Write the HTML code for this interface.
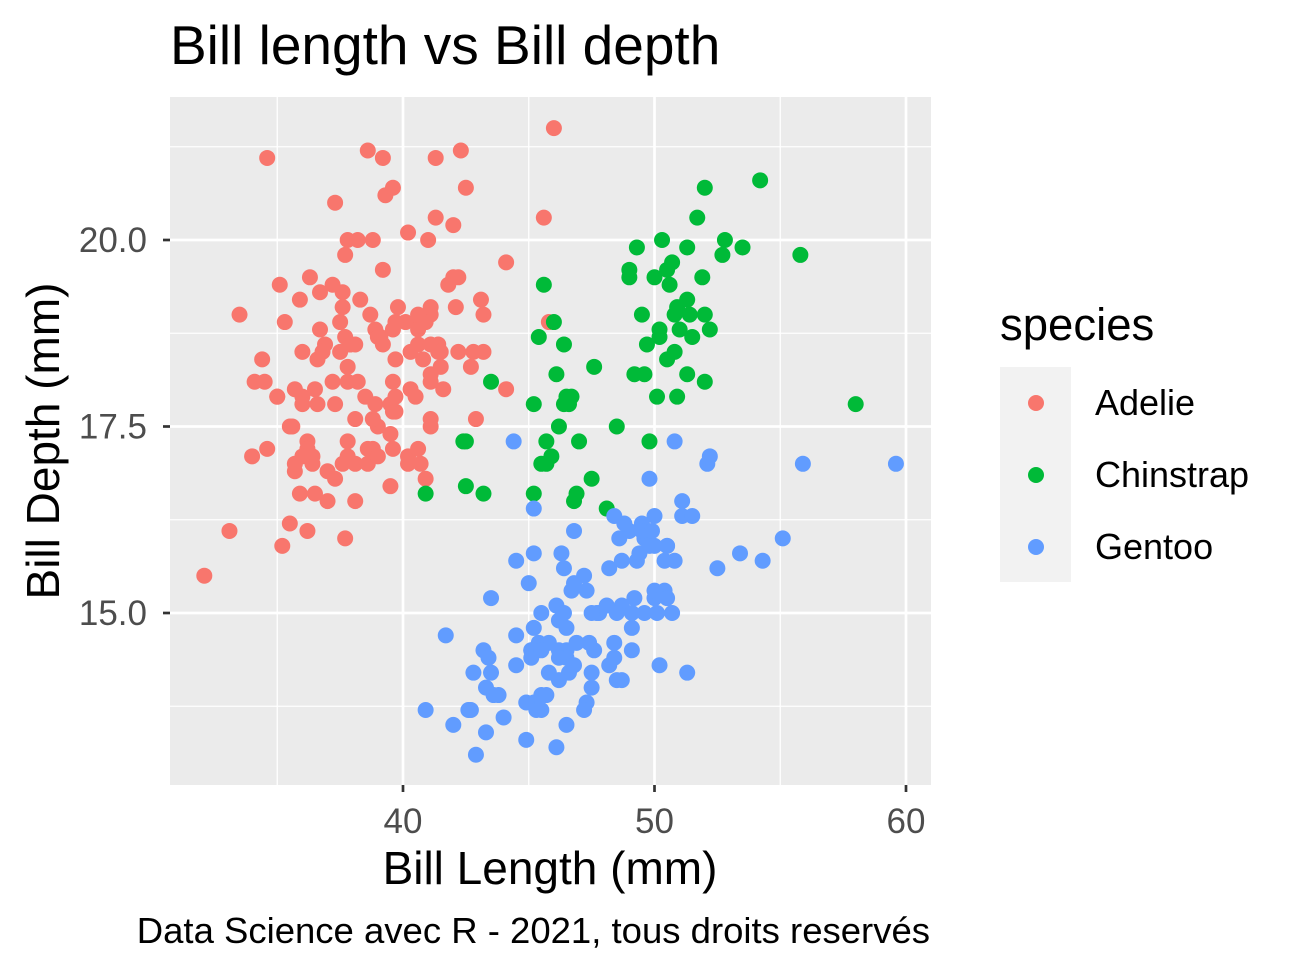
<!DOCTYPE html>
<html><head><meta charset="utf-8"><style>
body{margin:0;background:#fff;}
svg text{font-family:"Liberation Sans",sans-serif;}
</style></head><body>
<svg id="chart" width="1297" height="974" xmlns="http://www.w3.org/2000/svg">
<rect width="1297" height="974" fill="#fff"/>
<text x="170" y="64" font-size="55" fill="#000">Bill length vs Bill depth</text>
<rect x="170" y="97" width="761" height="688" fill="#EBEBEB"/>
<g id="grid"></g>
<g id="pts"></g>
<g id="axes"></g>
<text x="550" y="884" font-size="46" text-anchor="middle">Bill Length (mm)</text>
<text transform="translate(59,441) rotate(-90)" font-size="46" text-anchor="middle">Bill Depth (mm)</text>
<text x="930" y="943" font-size="36.5" text-anchor="end">Data Science avec R - 2021, tous droits reservés</text>
<g>
<text x="1000" y="340" font-size="45.5">species</text>
<rect x="1000" y="367" width="71" height="215" fill="#F2F2F2"/>
<circle cx="1036" cy="403" r="8" fill="#F8766D"/>
<text x="1095" y="415" font-size="36">Adelie</text>
<circle cx="1036" cy="475" r="8" fill="#00BA38"/>
<text x="1095" y="487" font-size="36">Chinstrap</text>
<circle cx="1036" cy="547" r="8" fill="#619CFF"/>
<text x="1095" y="559" font-size="36">Gentoo</text>
</g>
</svg>
<script>
const xTicks=[40,50,60];
const xMinor=[35,45,55];
const yTicks=[15,17.5,20];
const yTickLabels=["15.0","17.5","20.0"];
const yMinor=[13.75,16.25,18.75,21.25];
const adelieX=[39.1,39.5,40.3,36.7,39.3,38.9,39.2,34.1,42,37.8,37.8,41.1,38.6,34.6,36.6,38.7,42.5,34.4,46,37.8,37.7,35.9,38.2,38.8,35.3,40.6,40.5,37.9,40.5,39.5,37.2,39.5,40.9,36.4,39.2,38.8,42.2,37.6,39.8,36.5,40.8,36,44.1,37,39.6,41.1,37.5,36,42.3,39.6,40.1,35,42,34.5,41.4,39,40.6,36.5,37.6,35.7,41.3,37.6,41.1,36.4,41.6,35.5,41.1,35.9,41.8,33.5,39.7,39.6,45.8,35.5,42.8,40.9,37.2,36.2,42.1,34.6,42.9,36.7,35.1,37.3,41.3,36.3,36.9,38.3,38.9,35.7,41.1,34,39.6,36.2,40.8,38.1,40.3,33.1,43.2,35,41,37.7,37.8,37.9,39.7,38.6,38.2,38.1,43.2,38.1,45.6,39.7,42.2,39.6,42.7,38.6,37.3,35.7,41.1,36.2,37.7,40.2,41.4,35.2,40.6,38.8,41.5,39,44.1,38.5,43.1,36.8,37.5,38.1,41.1,35.6,40.2,37,39.7,40.2,40.6,32.1,40.7,37.3,39,39.2,36.6,36,37.8,36,41.5];
const adelieY=[18.7,17.4,18,19.3,20.6,17.8,19.6,18.1,20.2,17.1,17.3,17.6,21.2,21.1,17.8,19,20.7,18.4,21.5,18.3,18.7,19.2,18.1,17.2,18.9,18.6,17.9,18.6,18.9,16.7,18.1,17.8,18.9,17,21.1,20,18.5,19.3,19.1,18,18.4,18.5,19.7,16.9,18.8,19,18.9,17.9,21.2,17.7,18.9,17.9,19.5,18.1,18.6,17.5,18.8,16.6,19.1,16.9,21.1,17,18.2,17.1,18,16.2,19.1,16.6,19.4,19,18.4,17.2,18.9,17.5,18.5,16.8,19.4,16.1,19.1,17.2,17.6,18.8,19.4,17.8,20.3,19.5,18.6,19.2,18.8,18,18.1,17.1,18.1,17.3,18.9,18.6,18.5,16.1,18.5,17.9,20,16,20,18.6,18.9,17.2,20,17,19,16.5,20.3,17.7,19.5,20.7,18.3,17,20.5,17,18.6,17.2,19.8,17,18.5,15.9,19,17.6,18.3,17.1,18,17.9,19.2,18.5,18.5,17.6,17.5,17.5,20.1,16.5,17.9,17.1,17.2,15.5,17,16.8,18.7,18.6,18.4,17.8,18.1,17.1,18.5];
const chinX=[46.5,50,51.3,45.4,52.7,45.2,46.1,51.3,46,51.3,46.6,51.7,47,52,45.9,50.5,50.3,58,46.4,49.2,42.4,48.5,43.2,50.6,46.7,52,50.5,49.5,46.4,52.8,40.9,54.2,42.5,51,49.7,47.5,47.6,52,46.9,53.5,49,46.2,50.9,45.5,50.9,50.8,50.1,49,51.5,49.8,48.1,51.4,45.7,50.7,42.5,52.2,45.2,49.3,50.2,45.6,51.9,46.8,45.7,55.8,43.5,49.6,50.8,50.2];
const chinY=[17.9,19.5,19.2,18.7,19.8,17.8,18.2,18.2,18.9,19.9,17.8,20.3,17.3,18.1,17.1,19.6,20,17.8,18.6,18.2,17.3,17.5,16.6,19.4,17.9,19,18.4,19,17.8,20,16.6,20.8,16.7,18.8,18.6,16.8,18.3,20.7,16.6,19.9,19.5,17.5,19.1,17,17.9,18.5,17.9,19.6,18.7,17.3,16.4,19,17.3,19.7,17.3,18.8,16.6,19.9,18.8,19.4,19.5,16.5,17,19.8,18.1,18.2,19,18.7];
const gentooX=[46.1,50,48.7,50,47.6,46.5,45.4,46.7,43.3,46.8,40.9,49,45.5,48.4,45.8,49.3,42,49.2,46.2,48.7,50.2,45.1,46.5,46.3,42.9,46.1,44.5,47.8,48.2,50,47.3,42.8,45.1,59.6,49.1,48.4,42.6,44.4,44,48.7,42.7,49.6,45.3,49.6,50.5,43.6,45.5,50.5,44.9,45.2,46.6,48.5,45.1,50.1,46.5,45,43.8,45.5,43.2,50.4,45.3,46.2,45.7,54.3,45.8,49.8,46.2,49.5,43.5,50.7,47.7,46.4,48.2,46.5,46.4,48.6,47.5,51.1,45.2,45.2,49.1,52.5,47.4,50,44.9,50.8,43.4,51.3,47.5,52.1,47.5,52.2,45.5,49.5,44.5,50.8,49.4,46.9,48.4,51.1,48.5,55.9,47.2,49.1,47.3,46.8,41.7,53.4,43.3,48.1,50.5,49.8,43.5,51.5,46.2,55.1,44.5,48.8,47.2,46.8,50.4,45.2,49.9];
const gentooY=[13.2,16.3,14.1,15.2,14.5,13.5,14.6,15.3,13.4,15.4,13.7,16.1,13.7,14.6,14.6,15.7,13.5,15.2,14.5,15.1,14.3,14.5,14.5,15.8,13.1,15.1,14.3,15,14.3,15.3,15.3,14.2,14.5,17,14.8,16.3,13.7,17.3,13.6,15.7,13.7,16,13.7,15,15.9,13.9,13.9,15.9,13.3,15.8,14.2,14.1,14.4,15,14.4,15.4,13.9,15,14.5,15.3,13.8,14.9,13.9,15.7,14.2,16.8,14.4,16.2,14.2,15,15,15.6,15.6,14.8,15,16,14.2,16.3,13.8,16.4,14.5,15.6,14.6,15.9,13.8,17.3,14.4,14.2,14,17,15,17.1,14.5,16.1,14.7,15.7,15.8,14.6,14.4,16.5,15,17,15.5,15,13.8,16.1,14.7,15.8,14,15.1,15.2,15.9,15.2,16.3,14.1,16,15.7,16.2,13.7,14.3,15.7,14.8,16.1];
const NS='http://www.w3.org/2000/svg';
function X(v){return 403+(v-40)*25.15;}
function Y(v){return 613-(v-15)*74.6;}
const grid=document.getElementById('grid'),pts=document.getElementById('pts'),axes=document.getElementById('axes');
function line(p,x1,y1,x2,y2,c,w,name){const l=document.createElementNS(NS,'line');l.setAttribute('x1',x1);l.setAttribute('y1',y1);l.setAttribute('x2',x2);l.setAttribute('y2',y2);l.setAttribute('stroke',c);l.setAttribute('stroke-width',w);


p.appendChild(l);}
function txt(p,x,y,s,anchor,name){const t=document.createElementNS(NS,'text');t.setAttribute('x',x);t.setAttribute('y',y);t.setAttribute('font-size','35');t.setAttribute('fill','#4D4D4D');t.setAttribute('text-anchor',anchor);t.textContent=s;


p.appendChild(t);}
xMinor.forEach(v=>line(grid,X(v),97,X(v),785,'#fff',1.3,'x-minor-grid'));
yMinor.forEach(v=>line(grid,170,Y(v),931,Y(v),'#fff',1.3,'y-minor-grid'));
xTicks.forEach(v=>{line(grid,X(v),97,X(v),785,'#fff',2.7,'x-major-grid');line(axes,X(v),785,X(v),792,'#333',2.7,'x-tick');txt(axes,X(v),833,String(v),'middle','x-tick-label');});
yTicks.forEach((v,i)=>{line(grid,170,Y(v),931,Y(v),'#fff',2.7,'y-major-grid');line(axes,163,Y(v),170,Y(v),'#333',2.7,'y-tick');txt(axes,147,Y(v)+12,yTickLabels[i],'end','y-tick-label');});
function draw(xs,ys,c,name){xs.forEach((x,i)=>{const e=document.createElementNS(NS,'circle');e.setAttribute('cx',X(x));e.setAttribute('cy',Y(ys[i]));e.setAttribute('r',8);e.setAttribute('fill',c);


pts.appendChild(e);});}
draw(adelieX,adelieY,'#F8766D','point-adelie');
draw(chinX,chinY,'#00BA38','point-chinstrap');
draw(gentooX,gentooY,'#619CFF','point-gentoo');
</script>
</body></html>
